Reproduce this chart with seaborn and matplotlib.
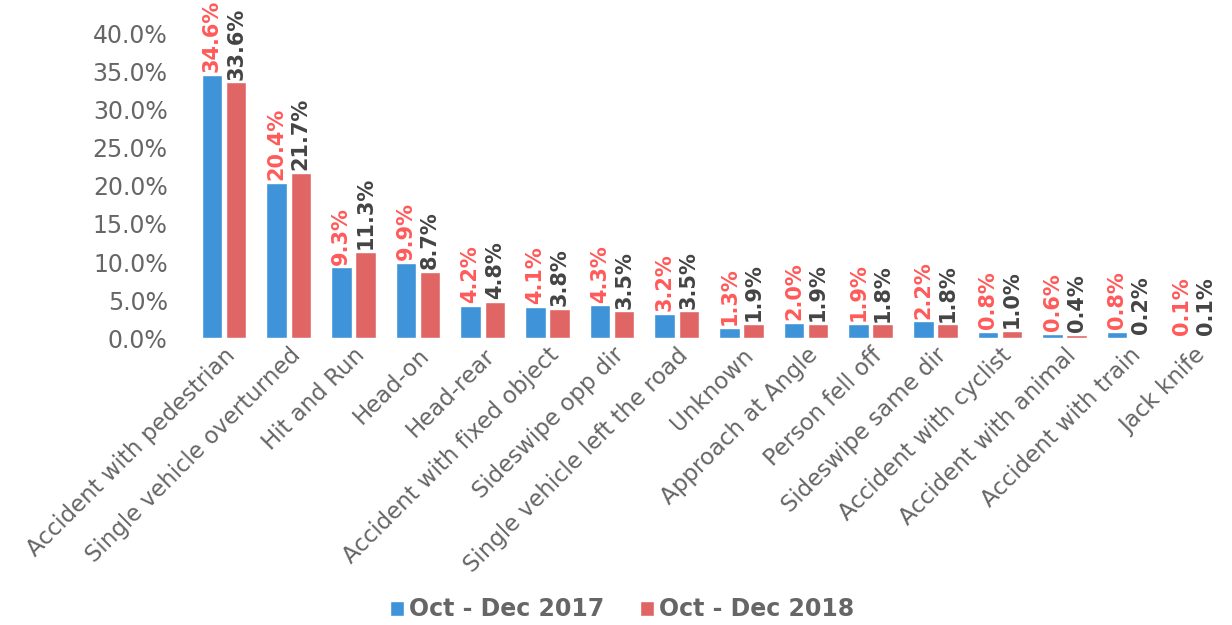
import numpy as np
import pandas as pd
import seaborn as sns
import matplotlib.pyplot as plt
from matplotlib.ticker import FuncFormatter

categories = ["Accident with pedestrian", "Single vehicle overturned", "Hit and Run",
              "Head-on", "Head-rear", "Accident with fixed object", "Sideswipe opp dir",
              "Single vehicle left the road", "Unknown", "Approach at Angle",
              "Person fell off", "Sideswipe same dir", "Accident with cyclist",
              "Accident with animal", "Accident with train", "Jack knife"]
pct_2017 = [34.6, 20.4, 9.3, 9.9, 4.2, 4.1, 4.3, 3.2, 1.3, 2.0, 1.9, 2.2, 0.8, 0.6, 0.8, 0.1]
pct_2018 = [33.6, 21.7, 11.3, 8.7, 4.8, 3.8, 3.5, 3.5, 1.9, 1.9, 1.8, 1.8, 1.0, 0.4, 0.2, 0.1]
periods = ["Oct - Dec 2017", "Oct - Dec 2018"]

df = pd.DataFrame({
    "Type": categories * 2,
    "Period": [periods[0]] * len(categories) + [periods[1]] * len(categories),
    "Pct": pct_2017 + pct_2018,
})

sns.set_style("white")
plt.rcParams['font.family'] = ['DejaVu Sans']

fig = plt.figure(figsize=(12.32, 6.25), dpi=100)
ax = fig.add_axes([0.153, 0.459, 0.845, 0.487])

sns.barplot(data=df, x="Type", y="Pct", hue="Period", order=categories,
            palette=["#3f93d9", "#e06666"], saturation=1, width=0.75, gap=0.15,
            ax=ax, legend=True)

ax.set_ylim(0, 40)
ax.set_xlim(-0.55, len(categories) - 0.45)
ax.set_yticks(np.arange(0, 41, 5))
ax.yaxis.set_major_formatter(FuncFormatter(lambda v, p: f"{v:.1f}%"))
ax.tick_params(axis="y", labelsize=17, labelcolor="#666666", length=0, pad=15)
ax.tick_params(axis="x", labelsize=16.5, labelcolor="#666666", length=0, pad=4)
plt.setp(ax.get_xticklabels(), rotation=45, ha="right", rotation_mode="anchor")
ax.set_xlabel("")
ax.set_ylabel("")
sns.despine(ax=ax, left=True, bottom=True)

label_colors = ["#ff5a5a", "#444444"]
for cont, col in zip(ax.containers, label_colors):
    ax.bar_label(cont, labels=[f"{b.get_height():.1f}%" for b in cont],
                 rotation=90, padding=2, fontsize=15, fontweight="bold",
                 color=col, clip_on=False)

ax.get_legend().remove()
handles, labels = ax.get_legend_handles_labels()
leg = fig.legend(handles, labels, loc="center", bbox_to_anchor=(0.505, 0.025), ncol=2,
                 frameon=False, fontsize=17, handlelength=0.6, handleheight=0.6,
                 handletextpad=0.2, columnspacing=1.5)
for t in leg.get_texts():
    t.set_color("#666666")
    t.set_fontweight("bold")

fig.savefig("out.png", dpi=100)
